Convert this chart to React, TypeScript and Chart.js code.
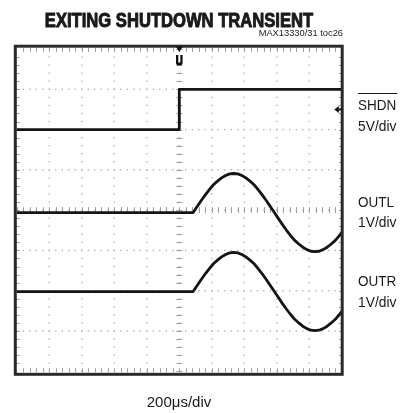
import React, { useEffect, useRef } from "react";
import { Chart, registerables } from "chart.js";

Chart.register(...registerables);

// ---------- text ----------
const TITLE = "EXITING SHUTDOWN TRANSIENT";
const SUBTITLE = "MAX13330/31 toc26";
const X_LABEL = "200μs/div";

// ---------- scope set-up ----------
const TIME_PER_DIV = 200; // μs
const X_DIVS = 10;
const Y_DIVS = 8;
const channelNames = ["SHDN", "OUTL", "OUTR"];
const channelScales = ["5V/div", "1V/div", "1V/div"];
const voltsPerDiv = [5, 1, 1];
const channelOffsets = [6, 3.94, 1.98]; // ground level, divisions from bottom
const triggerTime = 1000; // μs
const triggerLevel = 2.5; // V on SHDN

// ---------- traces ----------
const shdnTime = [0, 1000, 1000, 2000];
const shdnVolts = [0, 0, 5, 5];

const outTime = [
  0, 1085, 1110, 1135, 1160, 1185, 1210, 1235, 1260, 1285, 1310, 1335, 1360,
  1385, 1410, 1435, 1460, 1485, 1510, 1535, 1560, 1585, 1610, 1635, 1660, 1685,
  1710, 1735, 1760, 1785, 1810, 1835, 1860, 1885, 1910, 1935, 1960, 1985, 2000,
];
const outlVolts = [
  0, 0, 0.15, 0.3, 0.44, 0.57, 0.69, 0.78, 0.86, 0.92, 0.96, 0.97, 0.96, 0.92,
  0.86, 0.78, 0.69, 0.57, 0.44, 0.3, 0.15, 0, -0.15, -0.3, -0.44, -0.57, -0.69,
  -0.78, -0.86, -0.92, -0.96, -0.97, -0.96, -0.92, -0.86, -0.78, -0.69, -0.57,
  -0.49,
];
const outrVolts = [
  0, 0, 0.15, 0.3, 0.44, 0.57, 0.69, 0.78, 0.86, 0.92, 0.96, 0.97, 0.96, 0.92,
  0.86, 0.78, 0.69, 0.57, 0.44, 0.3, 0.15, 0, -0.15, -0.3, -0.44, -0.57, -0.69,
  -0.78, -0.86, -0.92, -0.96, -0.97, -0.96, -0.92, -0.86, -0.78, -0.69, -0.57,
  -0.49,
];

// ---------- layout (styles) ----------
const W = 415;
const H = 413;
const AREA = { left: 16.8, top: 49, right: 341.8, bottom: 371.3 };
const labelX = 358;
const labelBaselines = [110, 206.7, 286];
const FONT = "'Liberation Sans', Arial, sans-serif";
const TRACE = "#141414";

function toDiv(ch: number, times: number[], volts: number[]) {
  return times.map((t, i) => ({
    x: t,
    y: channelOffsets[ch] + volts[i] / voltsPerDiv[ch],
  }));
}

function scaledText(
  ctx: CanvasRenderingContext2D,
  text: string,
  x: number,
  y: number,
  font: string,
  sx: number,
  align: CanvasTextAlign,
  bold = 0
) {
  ctx.save();
  ctx.translate(x, y);
  ctx.scale(sx, 1);
  ctx.font = font;
  ctx.textAlign = align;
  ctx.textBaseline = "alphabetic";
  ctx.fillStyle = "#1a1a1a";
  ctx.fillText(text, 0, 0);
  if (bold > 0) {
    ctx.strokeStyle = "#1a1a1a";
    ctx.lineWidth = bold;
    ctx.lineJoin = "round";
    ctx.strokeText(text, 0, 0);
  }
  const w = ctx.measureText(text).width * sx;
  ctx.restore();
  return w;
}

const scopePlugin = {
  id: "scope",
  beforeDatasetsDraw(chart: any) {
    const ctx: CanvasRenderingContext2D = chart.ctx;
    const { left, top, right, bottom } = chart.chartArea;
    const dx = (right - left) / X_DIVS;
    const dy = (bottom - top) / Y_DIVS;
    ctx.save();
    // dotted graticule
    ctx.fillStyle = "#b4b4b4";
    for (let j = 1; j < Y_DIVS; j++) {
      const y = top + j * dy;
      for (let i = 0; i <= X_DIVS * 5; i++) {
        const x = left + (i * dx) / 5;
        ctx.fillRect(x - 0.7, y - 0.7, 1.4, 1.4);
      }
    }
    for (let i = 1; i < X_DIVS; i++) {
      const x = left + i * dx;
      for (let j = 0; j <= Y_DIVS * 5; j++) {
        const y = top + (j * dy) / 5;
        ctx.fillRect(x - 0.7, y - 0.7, 1.4, 1.4);
      }
    }
    // centre axes with minor ticks
    ctx.strokeStyle = "#a0a0a0";
    ctx.lineWidth = 1;
    const cx = left + (X_DIVS / 2) * dx;
    const cy = top + (Y_DIVS / 2) * dy;
    ctx.beginPath();
    for (let j = 0; j <= Y_DIVS * 5; j++) {
      const y = Math.round(top + (j * dy) / 5) + 0.5;
      ctx.moveTo(cx - 3, y);
      ctx.lineTo(cx + 3, y);
    }
    for (let i = 0; i <= X_DIVS * 5; i++) {
      const x = Math.round(left + (i * dx) / 5) + 0.5;
      ctx.moveTo(x, cy - 3);
      ctx.lineTo(x, cy + 3);
    }
    // border ticks
    for (let i = 1; i < X_DIVS * 5; i++) {
      const x = Math.round(left + (i * dx) / 5) + 0.5;
      ctx.moveTo(x, top - 1);
      ctx.lineTo(x, top + 3);
      ctx.moveTo(x, bottom + 1);
      ctx.lineTo(x, bottom - 3);
    }
    for (let j = 1; j < Y_DIVS * 5; j++) {
      const y = Math.round(top + (j * dy) / 5) + 0.5;
      ctx.moveTo(left - 1, y);
      ctx.lineTo(left + 3, y);
      ctx.moveTo(right + 1, y);
      ctx.lineTo(right - 3, y);
    }
    ctx.stroke();
    ctx.restore();
  },
  afterDatasetsDraw(chart: any) {
    const ctx: CanvasRenderingContext2D = chart.ctx;
    const { left, top, right, bottom } = chart.chartArea;
    const xs = chart.scales.x;
    const ys = chart.scales.y;
    ctx.save();
    // frame
    ctx.strokeStyle = "#2a2a2a";
    ctx.lineWidth = 3;
    ctx.strokeRect(left - 1.5, top - 2.8, right - left + 1.9, bottom - top + 5.8);

    // trigger time marker
    const tx = xs.getPixelForValue(triggerTime);
    ctx.fillStyle = "#111";
    ctx.beginPath();
    ctx.moveTo(tx - 3.5, top - 2.5);
    ctx.lineTo(tx + 3.5, top - 2.5);
    ctx.lineTo(tx, top + 3);
    ctx.closePath();
    ctx.fill();
    ctx.beginPath();
    ctx.moveTo(tx - 3.3, top + 6);
    ctx.lineTo(tx + 3.3, top + 6);
    ctx.lineTo(tx + 3.3, top + 14);
    ctx.quadraticCurveTo(tx + 3.3, top + 16.5, tx, top + 16.5);
    ctx.quadraticCurveTo(tx - 3.3, top + 16.5, tx - 3.3, top + 14);
    ctx.closePath();
    ctx.fill();
    ctx.fillStyle = "#fff";
    ctx.fillRect(tx - 1, top + 6, 2, 7.5);

    // trigger level marker
    const ty = ys.getPixelForValue(channelOffsets[0] + triggerLevel / voltsPerDiv[0]);
    ctx.fillStyle = "#111";
    ctx.beginPath();
    ctx.moveTo(right - 7.5, ty);
    ctx.lineTo(right - 3, ty - 3.5);
    ctx.lineTo(right - 3, ty + 3.5);
    ctx.closePath();
    ctx.fill();
    ctx.fillRect(right - 3.5, ty - 1, 3.5, 2);

    // titles
    scaledText(ctx, TITLE, 179, 26.5, `bold 20px ${FONT}`, 0.83, "center", 1.0);
    scaledText(ctx, SUBTITLE, 343, 35.5, `9.5px ${FONT}`, 0.98, "right");
    scaledText(ctx, X_LABEL, 179, 407, `15px ${FONT}`, 1.0, "center");

    // channel labels
    channelNames.forEach((name, i) => {
      const w = scaledText(ctx, name, labelX, labelBaselines[i], `15px ${FONT}`, 0.9, "left");
      if (i === 0) {
        ctx.strokeStyle = "#1a1a1a";
        ctx.lineWidth = 1.2;
        ctx.beginPath();
        ctx.moveTo(labelX, labelBaselines[i] - 16.5);
        ctx.lineTo(labelX + w + 1, labelBaselines[i] - 16.5);
        ctx.stroke();
      }
      scaledText(ctx, channelScales[i], labelX, labelBaselines[i] + 20.5, `15px ${FONT}`, 0.92, "left");
    });
    ctx.restore();
  },
};

export default function App() {
  const ref = useRef<HTMLCanvasElement | null>(null);
  useEffect(() => {
    if (!ref.current) return;
    const ds = (data: { x: number; y: number }[]) => ({
      data,
      borderColor: TRACE,
      borderWidth: 2.8,
      pointRadius: 0,
      tension: 0,
      fill: false,
      borderJoinStyle: "round" as const,
      borderCapStyle: "round" as const,
    });
    const chart = new Chart(ref.current, {
      type: "line",
      data: {
        datasets: [
          ds(toDiv(0, shdnTime, shdnVolts)),
          ds(toDiv(1, outTime, outlVolts)),
          ds(toDiv(2, outTime, outrVolts)),
        ],
      },
      options: {
        animation: false,
        responsive: false,
        devicePixelRatio: 1,
        layout: {
          padding: {
            left: AREA.left,
            top: AREA.top,
            right: W - AREA.right,
            bottom: H - AREA.bottom,
          },
        },
        scales: {
          x: { type: "linear", min: 0, max: TIME_PER_DIV * X_DIVS, display: false },
          y: { type: "linear", min: 0, max: Y_DIVS, display: false },
        },
        plugins: {
          legend: { display: false },
          tooltip: { enabled: false },
        },
      },
      plugins: [scopePlugin],
    });
    return () => chart.destroy();
  }, []);
  return (
    <div style={{ position: "fixed", left: 0, top: 0, width: W, height: H, background: "#fff" }}>
      <canvas ref={ref} width={W} height={H} style={{ display: "block" }} />
    </div>
  );
}
